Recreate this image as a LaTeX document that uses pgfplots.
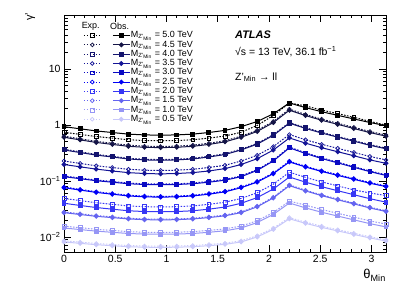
\documentclass[border=0pt]{standalone}
\usepackage{fontspec}
\setmainfont{Liberation Sans}
\usepackage{pgfplots}
\pgfplotsset{compat=1.18}
\usepackage{pgfplotstable}

\definecolor{c50}{RGB}{0,0,0}
\definecolor{c45}{RGB}{20,20,70}
\definecolor{c40}{RGB}{20,20,110}
\definecolor{c35}{RGB}{20,20,150}
\definecolor{c30}{RGB}{10,10,195}
\definecolor{c25}{RGB}{0,0,245}
\definecolor{c20}{RGB}{55,55,245}
\definecolor{c15}{RGB}{100,100,240}
\definecolor{c10}{RGB}{150,150,245}
\definecolor{c05}{RGB}{200,200,250}

\newcommand{\Mz}{M\textsubscript{Z'\textsubscript{Min}}}

\pgfplotstableread{
x o50 e50 o45 e45 o40 e40 o35 e35 o30 e30 o25 e25 o20 e20 o15 e15 o10 e10 o05 e05
0.0000 0.933 0.741 0.603 0.631 0.358 0.369 0.197 0.227 0.1194 0.123 0.0759 0.0782 0.0400 0.0488 0.0272 0.0280 0.01449 0.01565 0.00815 0.00856
0.1571 0.855 0.679 0.542 0.567 0.322 0.332 0.179 0.206 0.1099 0.113 0.0689 0.0710 0.0366 0.0447 0.0252 0.0260 0.01358 0.01467 0.00771 0.00810
0.3142 0.783 0.622 0.488 0.511 0.290 0.299 0.163 0.187 0.1012 0.104 0.0625 0.0644 0.0336 0.0410 0.0234 0.0241 0.01274 0.01376 0.00729 0.00765
0.4712 0.734 0.583 0.450 0.471 0.268 0.276 0.151 0.174 0.0951 0.098 0.0581 0.0598 0.0314 0.0383 0.0222 0.0229 0.01213 0.01310 0.00700 0.00735
0.6283 0.687 0.545 0.416 0.436 0.247 0.254 0.141 0.162 0.0893 0.092 0.0541 0.0557 0.0294 0.0359 0.0210 0.0216 0.01156 0.01248 0.00671 0.00705
0.7854 0.665 0.528 0.400 0.419 0.238 0.245 0.136 0.156 0.0866 0.0892 0.0521 0.0537 0.0285 0.0348 0.0204 0.0210 0.01128 0.01218 0.00658 0.00691
0.9425 0.658 0.522 0.394 0.413 0.234 0.241 0.134 0.154 0.0857 0.0883 0.0515 0.0530 0.0282 0.0344 0.0202 0.0208 0.01119 0.01209 0.00653 0.00686
1.0996 0.665 0.528 0.400 0.419 0.238 0.245 0.136 0.156 0.0866 0.0892 0.0521 0.0537 0.0285 0.0348 0.0204 0.0210 0.01128 0.01218 0.00658 0.00691
1.2566 0.687 0.545 0.416 0.436 0.247 0.254 0.141 0.162 0.0893 0.092 0.0541 0.0557 0.0294 0.0359 0.0210 0.0216 0.01156 0.01248 0.00671 0.00705
1.4137 0.734 0.583 0.450 0.471 0.268 0.276 0.151 0.174 0.0951 0.098 0.0581 0.0598 0.0314 0.0383 0.0222 0.0229 0.01213 0.01310 0.00700 0.00735
1.5708 0.801 0.636 0.500 0.524 0.297 0.306 0.1665 0.191 0.1033 0.1064 0.0640 0.0659 0.0343 0.0418 0.0239 0.0246 0.01294 0.01398 0.00740 0.00777
1.7279 0.933 0.741 0.603 0.631 0.358 0.369 0.197 0.227 0.1194 0.123 0.0759 0.0782 0.0400 0.0488 0.0272 0.0280 0.01449 0.01565 0.00815 0.00856
1.8850 1.153 0.981 0.767 0.803 0.455 0.469 0.250 0.288 0.1545 0.159 0.0955 0.0984 0.0506 0.0617 0.0346 0.0356 0.01811 0.01956 0.01002 0.01052
2.0420 1.585 1.479 1.103 1.155 0.652 0.672 0.357 0.411 0.2275 0.234 0.1349 0.139 0.0719 0.0877 0.0497 0.0512 0.02532 0.02735 0.01368 0.01436
2.1991 2.472 2.472 1.832 1.918 1.076 1.108 0.587 0.675 0.391 0.403 0.2188 0.2254 0.1178 0.1437 0.0826 0.0851 0.04046 0.04370 0.02113 0.02219
2.3562 2.042 2.189 1.474 1.543 0.869 0.895 0.474 0.545 0.310 0.319 0.1778 0.1831 0.0953 0.1163 0.0665 0.0685 0.03311 0.0371 0.01754 0.01842
2.5133 1.726 1.850 1.215 1.272 0.718 0.740 0.393 0.452 0.252 0.260 0.1479 0.1523 0.0791 0.0965 0.0548 0.0564 0.02767 0.0310 0.01486 0.01560
2.6704 1.486 1.593 1.026 1.074 0.607 0.625 0.333 0.383 0.2104 0.216 0.1259 0.1297 0.0670 0.0817 0.0462 0.0476 0.02366 0.0265 0.01285 0.01349
2.8274 1.282 1.374 0.866 0.907 0.513 0.528 0.282 0.324 0.1758 0.181 0.1072 0.1104 0.0569 0.0694 0.0390 0.0402 0.02025 0.0227 0.01112 0.01168
2.9845 1.107 1.159 0.731 0.765 0.434 0.447 0.238 0.274 0.1469 0.151 0.0912 0.0939 0.0483 0.061 0.0330 0.0340 0.01734 0.0194 0.00962 0.01010
3.1416 0.973 0.995 0.632 0.662 0.376 0.387 0.207 0.238 0.1256 0.129 0.0794 0.0818 0.0419 0.055 0.0285 0.0294 0.01514 0.0170 0.00849 0.00891
}\datatab

\pgfplotsset{
  expst/.style={dash pattern=on 1.6bp off 1.4bp, line width=1.0bp, mark size=1.9bp, mark options={solid, line width=0.7bp}},
  obsst/.style={solid, line width=1.0bp, mark size=1.9bp},
}

\begin{document}
\begin{tikzpicture}
\begin{axis}[
  scale only axis, width=322bp, height=237bp,
  xmin=0, xmax=3.1416, ymode=log, ymin=0.0054, ymax=92,
  xtick={0,0.5,1,1.5,2,2.5,3}, minor x tick num=4,
  xticklabels={0,0.5,1,1.5,2,2.5,3},
  ytick={0.01,0.1,1,10},
  yticklabels={10\textsuperscript{−2},10\textsuperscript{−1},1,10},
  minor ytick={0.006,0.007,0.008,0.009,0.02,0.03,0.04,0.05,0.06,0.07,0.08,0.09,0.2,0.3,0.4,0.5,0.6,0.7,0.8,0.9,2,3,4,5,6,7,8,9,20,30,40,50,60,70,80,90},
  major tick length=7bp, minor tick length=3.5bp,
  tick style={black, line width=0.7bp},
  axis line style={line width=0.8bp},
  tick align=inside, xtick pos=both, ytick pos=both,
  /pgf/number format/assume math mode=true,
  tick label style={font=\fontsize{10.5}{10.5}\selectfont},
  xlabel={θ\textsubscript{Min}},
  xlabel style={at={(axis description cs:1,0)}, anchor=north east, yshift=-17bp, inner sep=0pt, font=\fontsize{13}{13}\selectfont},
  ylabel={γ'},
  ylabel style={at={(axis description cs:-0.105,1.01)}, anchor=east, inner sep=0pt, font=\fontsize{11}{11}\selectfont},
  legend columns=2,
  legend cell align=left,
  legend style={at={(axis description cs:0.05,0.942)}, anchor=north west, draw=none, fill=none,
    font=\fontsize{9}{9}\selectfont, row sep=0pt,
    nodes={text height=6.3bp, text depth=2.0bp, inner sep=0.5bp},
    /tikz/every even column/.append style={column sep=10bp}},
]
\addplot[expst, c50, mark=square] table[x=x, y=e50] {\datatab}; \addlegendentry{}
\addplot[obsst, c50, mark=square*] table[x=x, y=o50] {\datatab}; \addlegendentry{\Mz{} = 5.0 TeV}
\addplot[expst, c45, mark=o] table[x=x, y=e45] {\datatab}; \addlegendentry{}
\addplot[obsst, c45, mark=*] table[x=x, y=o45] {\datatab}; \addlegendentry{\Mz{} = 4.5 TeV}
\addplot[expst, c40, mark=square] table[x=x, y=e40] {\datatab}; \addlegendentry{}
\addplot[obsst, c40, mark=square*] table[x=x, y=o40] {\datatab}; \addlegendentry{\Mz{} = 4.0 TeV}
\addplot[expst, c35, mark=o] table[x=x, y=e35] {\datatab}; \addlegendentry{}
\addplot[obsst, c35, mark=*] table[x=x, y=o35] {\datatab}; \addlegendentry{\Mz{} = 3.5 TeV}
\addplot[expst, c30, mark=square] table[x=x, y=e30] {\datatab}; \addlegendentry{}
\addplot[obsst, c30, mark=square*] table[x=x, y=o30] {\datatab}; \addlegendentry{\Mz{} = 3.0 TeV}
\addplot[expst, c25, mark=o] table[x=x, y=e25] {\datatab}; \addlegendentry{}
\addplot[obsst, c25, mark=*] table[x=x, y=o25] {\datatab}; \addlegendentry{\Mz{} = 2.5 TeV}
\addplot[expst, c20, mark=square] table[x=x, y=e20] {\datatab}; \addlegendentry{}
\addplot[obsst, c20, mark=square*] table[x=x, y=o20] {\datatab}; \addlegendentry{\Mz{} = 2.0 TeV}
\addplot[expst, c15, mark=o] table[x=x, y=e15] {\datatab}; \addlegendentry{}
\addplot[obsst, c15, mark=*] table[x=x, y=o15] {\datatab}; \addlegendentry{\Mz{} = 1.5 TeV}
\addplot[expst, c10, mark=square] table[x=x, y=e10] {\datatab}; \addlegendentry{}
\addplot[obsst, c10, mark=square*] table[x=x, y=o10] {\datatab}; \addlegendentry{\Mz{} = 1.0 TeV}
\addplot[expst, c05, mark=o] table[x=x, y=e05] {\datatab}; \addlegendentry{}
\addplot[obsst, c05, mark=*] table[x=x, y=o05] {\datatab}; \addlegendentry{\Mz{} = 0.5 TeV}

\node[font=\fontsize{9}{9}\selectfont] at (axis description cs:0.083,0.954) {Exp.};
\node[font=\fontsize{9}{9}\selectfont] at (axis description cs:0.173,0.954) {Obs.};
\node[anchor=west, font=\fontsize{11}{11}\selectfont\bfseries\itshape, inner sep=0pt] at (axis description cs:0.531,0.916) {ATLAS};
\node[anchor=west, font=\fontsize{10.5}{10.5}\selectfont, inner sep=0pt] at (axis description cs:0.531,0.844) {√s = 13 TeV, 36.1 fb\textsuperscript{−1}};
\node[anchor=west, font=\fontsize{10.5}{10.5}\selectfont, inner sep=0pt] at (axis description cs:0.531,0.738) {Z'\textsubscript{Min} → ll};
\end{axis}
\useasboundingbox (-64bp,-49bp) rectangle (343bp,252bp);
\end{tikzpicture}
\end{document}
